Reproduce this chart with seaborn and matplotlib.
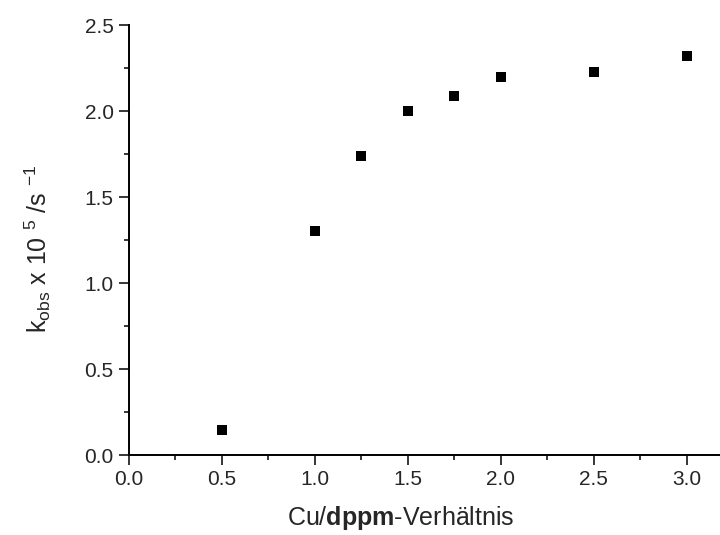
import pandas as pd
import matplotlib
matplotlib.use("Agg")
import matplotlib.pyplot as plt
import seaborn as sns
from matplotlib.ticker import MultipleLocator

# data
ratio = [0.5, 1.0, 1.25, 1.5, 1.75, 2.0, 2.5, 3.0]
k_obs = [0.145, 1.30, 1.74, 2.00, 2.09, 2.20, 2.23, 2.32]

df = pd.DataFrame({"ratio": ratio, "k_obs": k_obs})

sns.set_style("ticks")
plt.rcParams["font.family"] = ["Liberation Sans", "DejaVu Sans"]
plt.rcParams["mathtext.fontset"] = "custom"
plt.rcParams["mathtext.rm"] = "Liberation Sans"
plt.rcParams["mathtext.it"] = "Liberation Sans"
plt.rcParams["mathtext.bf"] = "Liberation Sans:bold"

fig = plt.figure(figsize=(7.2, 5.35), dpi=100)
ax = fig.add_axes([0.179, 0.1495, 0.821, 0.8035])

sns.scatterplot(data=df, x="ratio", y="k_obs", marker="s", s=42,
                color="black", linewidth=0, ax=ax)

ax.set_xlim(0, 3.18)
ax.set_ylim(0, 2.5)
ax.xaxis.set_major_locator(MultipleLocator(0.5))
ax.xaxis.set_minor_locator(MultipleLocator(0.25))
ax.yaxis.set_major_locator(MultipleLocator(0.5))
ax.yaxis.set_minor_locator(MultipleLocator(0.25))
ax.xaxis.set_major_formatter(plt.FormatStrFormatter("%.1f"))
ax.yaxis.set_major_formatter(plt.FormatStrFormatter("%.1f"))

sns.despine(ax=ax)
for side in ["left", "bottom"]:
    ax.spines[side].set_linewidth(1.4)
    ax.spines[side].set_color("black")

ax.tick_params(which="major", length=7, width=1.1, labelsize=15, pad=4, color="black")
ax.tick_params(which="minor", length=3.6, width=1.1, color="black")

ax.set_xlabel(r"Cu/$\mathbf{dppm}$-Verhältnis", fontsize=18)
ax.set_ylabel(r"k$_{\mathrm{obs}}$ x 10 $^{5}$ /s $^{-1}$", fontsize=18)
ax.xaxis.set_label_coords(0.46, -0.113)
ax.yaxis.set_label_coords(-0.128, 0.479)

fig.savefig("out.png", dpi=100)
